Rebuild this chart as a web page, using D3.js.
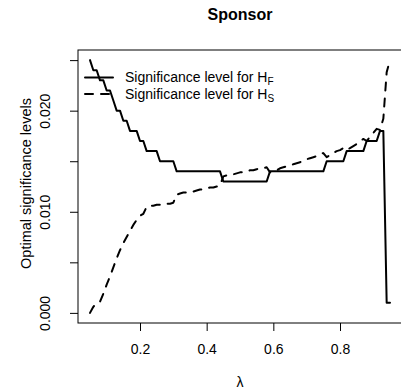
<!DOCTYPE html>
<html>
<head>
<meta charset="utf-8">
<script src="https://cdn.jsdelivr.net/npm/d3@7"></script>
<style>
body { margin: 0; background: #fff; }
svg text { font-family: "Liberation Sans", Arial, sans-serif; fill: #000; }
</style>
</head>
<body>
<div id="graphic"></div>
<script>
// DATA
var lambda = [
  0.05, 0.06, 0.07, 0.08, 0.09, 0.10, 0.11, 0.12, 0.13, 0.14,
  0.15, 0.16, 0.17, 0.18, 0.19, 0.20, 0.21, 0.22, 0.23, 0.24,
  0.25, 0.26, 0.27, 0.28, 0.29, 0.30, 0.31, 0.32, 0.33, 0.34,
  0.35, 0.36, 0.37, 0.38, 0.39, 0.40, 0.41, 0.42, 0.43, 0.44,
  0.45, 0.46, 0.47, 0.48, 0.49, 0.50, 0.51, 0.52, 0.53, 0.54,
  0.55, 0.56, 0.57, 0.58, 0.59, 0.60, 0.61, 0.62, 0.63, 0.64,
  0.65, 0.66, 0.67, 0.68, 0.69, 0.70, 0.71, 0.72, 0.73, 0.74,
  0.75, 0.76, 0.77, 0.78, 0.79, 0.80, 0.81, 0.82, 0.83, 0.84,
  0.85, 0.86, 0.87, 0.88, 0.89, 0.90, 0.91, 0.92, 0.93, 0.94,
  0.95
];

// significance level for H_F (solid)
var sigHF = [
  0.025, 0.024, 0.024, 0.023, 0.023, 0.022, 0.022, 0.021, 0.020, 0.020,
  0.019, 0.019, 0.018, 0.018, 0.018, 0.017, 0.017, 0.016, 0.016, 0.016,
  0.016, 0.015, 0.015, 0.015, 0.015, 0.015, 0.014, 0.014, 0.014, 0.014,
  0.014, 0.014, 0.014, 0.014, 0.014, 0.014, 0.014, 0.014, 0.014, 0.014,
  0.013, 0.013, 0.013, 0.013, 0.013, 0.013, 0.013, 0.013, 0.013, 0.013,
  0.013, 0.013, 0.013, 0.013, 0.014, 0.014, 0.014, 0.014, 0.014, 0.014,
  0.014, 0.014, 0.014, 0.014, 0.014, 0.014, 0.014, 0.014, 0.014, 0.014,
  0.014, 0.015, 0.015, 0.015, 0.015, 0.015, 0.015, 0.016, 0.016, 0.016,
  0.016, 0.016, 0.016, 0.017, 0.017, 0.017, 0.017, 0.018, 0.018, 0.001,
  0.001
];

// significance level for H_S (dashed)
var sigHS = [
  0.0000, 0.0006, 0.0010, 0.0011, 0.0019, 0.0028, 0.0036, 0.0045, 0.0054, 0.0062,
  0.0069, 0.0075, 0.0081, 0.0087, 0.0092, 0.0096, 0.0098, 0.0105, 0.0106, 0.0106,
  0.0107, 0.0107, 0.0107, 0.0108, 0.0108, 0.0109, 0.0117, 0.0118, 0.0119, 0.0119,
  0.0120, 0.0120, 0.0121, 0.0122, 0.0122, 0.0123, 0.0124, 0.0124, 0.0125, 0.0126,
  0.0135, 0.0136, 0.0137, 0.0137, 0.0138, 0.0139, 0.0139, 0.0140, 0.0141, 0.0141,
  0.0142, 0.0143, 0.0143, 0.0144, 0.0139, 0.0140, 0.0141, 0.0143, 0.0144, 0.0145,
  0.0146, 0.0147, 0.0148, 0.0149, 0.0150, 0.0152, 0.0153, 0.0154, 0.0155, 0.0157,
  0.0158, 0.0154, 0.0156, 0.0158, 0.0160, 0.0161, 0.0163, 0.0161, 0.0163, 0.0165,
  0.0167, 0.0170, 0.0172, 0.0170, 0.0174, 0.0178, 0.0182, 0.0181, 0.0192, 0.0238,
  0.0250
];

var xTicks = [0.2, 0.4, 0.6, 0.8];
var yTicks = [0, 0.005, 0.010, 0.015, 0.020, 0.025];
var yTickLabels = ["0.000", "", "0.010", "", "0.020", ""];
var legendSubs = ["F", "S"];

//SVG margins
var margin = {
    top: 50,
    right: 0,
    bottom: 67,
    left: 78
};

var fullWidth = 401,
    fullHeight = 390;
var width = 324,
    height = fullHeight - margin.top - margin.bottom;

var root = d3.select("#graphic").append("svg")
    .attr("width", fullWidth)
    .attr("height", fullHeight)
    .style("display", "block");

var svg = root.append("g")
    .attr("transform", "translate(" + margin.left + "," + margin.top + ")");

// R style axis ranges: data range + 4%
var xExt = d3.extent(lambda);
var xPad = (xExt[1] - xExt[0]) * 0.04;
var xScale = d3.scaleLinear()
    .domain([xExt[0] - xPad, xExt[1] + xPad])
    .range([0, width]);

var yExt = d3.extent(sigHF.concat(sigHS));
var yPad = (yExt[1] - yExt[0]) * 0.04;
var yScale = d3.scaleLinear()
    .domain([yExt[0] - yPad, yExt[1] + yPad])
    .range([height, 0]);

// AXIS
var xAxis = d3.axisBottom(xScale)
    .tickValues(xTicks)
    .tickSize(8)
    .tickFormat(d3.format(".1f"));

var gx = svg.append("g")
    .attr("transform", "translate(0," + height + ")")
    .call(xAxis);
gx.select(".domain").remove();
gx.selectAll("line").attr("stroke", "#000");
gx.selectAll("text")
    .attr("y", 31)
    .attr("dy", null)
    .style("font-size", "14px");

var yAxis = d3.axisLeft(yScale)
    .tickValues(yTicks)
    .tickSize(8)
    .tickFormat(function (d, i) { return yTickLabels[i]; });

var gy = svg.append("g").call(yAxis);
gy.select(".domain").remove();
gy.selectAll("line").attr("stroke", "#000");
gy.selectAll("text")
    .attr("x", 0)
    .attr("dy", null)
    .attr("text-anchor", "middle")
    .attr("transform", "translate(-28,0) rotate(-90)")
    .style("font-size", "14px");

// box
svg.append("rect")
    .attr("x", 0)
    .attr("y", 0)
    .attr("width", width)
    .attr("height", height)
    .attr("fill", "none")
    .attr("stroke", "#000")
    .attr("stroke-width", 1);

// SHOW DATA
var lineFn = d3.line()
    .x(function (d, i) { return xScale(lambda[i]); })
    .y(function (d) { return yScale(d); });

svg.append("path")
    .datum(sigHF)
    .attr("d", lineFn)
    .attr("fill", "none")
    .attr("stroke", "#000")
    .attr("stroke-width", 2)
    .attr("stroke-linejoin", "round")
    .attr("stroke-linecap", "round");

svg.append("path")
    .datum(sigHS)
    .attr("d", lineFn)
    .attr("fill", "none")
    .attr("stroke", "#000")
    .attr("stroke-width", 2)
    .attr("stroke-dasharray", "8,8")
    .attr("stroke-linejoin", "round")
    .attr("stroke-linecap", "round");

// legend
var legend = root.append("g");
legendSubs.forEach(function (s, i) {
    var ly = 77.5 + i * 16.5;
    legend.append("line")
        .attr("x1", 85)
        .attr("x2", 113)
        .attr("y1", ly)
        .attr("y2", ly)
        .attr("stroke", "#000")
        .attr("stroke-width", 2)
        .attr("stroke-linecap", "round")
        .attr("stroke-dasharray", i == 0 ? null : "8,8");
    var t = legend.append("text")
        .attr("x", 125)
        .attr("y", ly)
        .attr("dy", "0.35em")
        .style("font-size", "14px")
        .text("Significance level for H");
    t.append("tspan")
        .attr("dy", 3)
        .style("font-size", "10px")
        .text(s);
});

// titles
root.append("text")
    .attr("x", margin.left + width / 2)
    .attr("y", 20)
    .attr("text-anchor", "middle")
    .style("font-size", "16px")
    .style("font-weight", "bold")
    .text("Sponsor");

root.append("text")
    .attr("x", margin.left + width / 2)
    .attr("y", 387)
    .attr("text-anchor", "middle")
    .style("font-size", "14px")
    .text("λ");

root.append("text")
    .attr("transform", "translate(30.5," + (margin.top + height / 2 - 3) + ") rotate(-90)")
    .attr("text-anchor", "middle")
    .style("font-size", "14.5px")
    .text("Optimal significance levels");
</script>
</body>
</html>
